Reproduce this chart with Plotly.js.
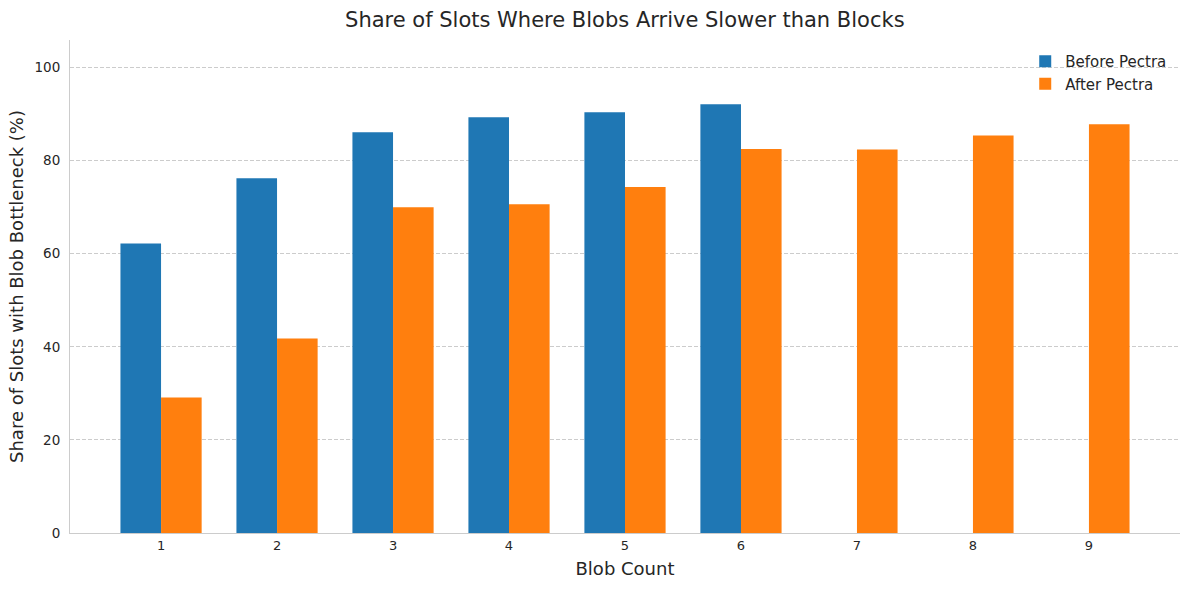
<!DOCTYPE html>
<html>
<head>
<meta charset="utf-8">
<script src="https://cdn.plot.ly/plotly-3.0.1.min.js"></script>
<style>html,body{margin:0;padding:0;background:#fff;}#chart{width:1189px;height:590px;}</style>
</head>
<body>
<div id="chart"></div>
<script>
const blobCounts = [1, 2, 3, 4, 5, 6, 7, 8, 9];
const beforeCounts = [1, 2, 3, 4, 5, 6];
const beforePectra = [62.2, 76.2, 86.1, 89.3, 90.4, 92.1];
const afterPectra = [29.1, 41.8, 70.0, 70.6, 74.3, 82.5, 82.4, 85.4, 87.8];
const yTicks = [0, 20, 40, 60, 80, 100];

const font = "DejaVu Sans, sans-serif";
const traces = [
  {type: 'bar', name: 'Before Pectra', x: beforeCounts, y: beforePectra,
   width: 0.35, offset: -0.35, marker: {color: '#1f77b4', line: {width: 0}}},
  {type: 'bar', name: 'After Pectra', x: blobCounts, y: afterPectra,
   width: 0.35, offset: 0, marker: {color: '#ff7f0e', line: {width: 0}}}
];
const layout = {
  width: 1189, height: 590,
  margin: {l: 70, r: 9, t: 40, b: 57},
  paper_bgcolor: '#fff', plot_bgcolor: '#fff',
  font: {family: font, color: '#262626', size: 12},
  title: {text: 'Share of Slots Where Blobs Arrive Slower than Blocks', font: {size: 21, color: '#262626'}, x: 0.5255, xanchor: 'center', y: 0.967, yanchor: 'middle'},
  barmode: 'overlay',
  showlegend: true,
  legend: {x: 0.993, xanchor: 'right', y: 0.99, yanchor: 'top', bgcolor: 'rgba(255,255,255,0)', font: {size: 15, color: '#262626'}, itemwidth: 30, tracegroupgap: 2},
  xaxis: {
    range: [0.215, 9.785], tickmode: 'array', tickvals: blobCounts, ticktext: blobCounts.map(String),
    showgrid: false, zeroline: false, showline: true, linecolor: '#cccccc', linewidth: 1,
    ticks: '', tickfont: {size: 13, color: '#262626'},
    title: {text: 'Blob Count', font: {size: 18, color: '#262626'}, standoff: 10}
  },
  yaxis: {
    range: [0, 105.9], tickmode: 'array', tickvals: yTicks,
    showgrid: true, gridcolor: '#cccccc', griddash: '4px,2px', gridwidth: 1,
    zeroline: false, showline: true, linecolor: '#cccccc', linewidth: 1,
    ticks: '', tickfont: {size: 13.5, color: '#262626'}, ticklabelstandoff: 6,
    title: {text: 'Share of Slots with Blob Bottleneck (%)', font: {size: 18, color: '#262626'}, standoff: 6}
  }
};
Plotly.newPlot('chart', traces, layout, {displayModeBar: false, staticPlot: true});
</script>
</body>
</html>
